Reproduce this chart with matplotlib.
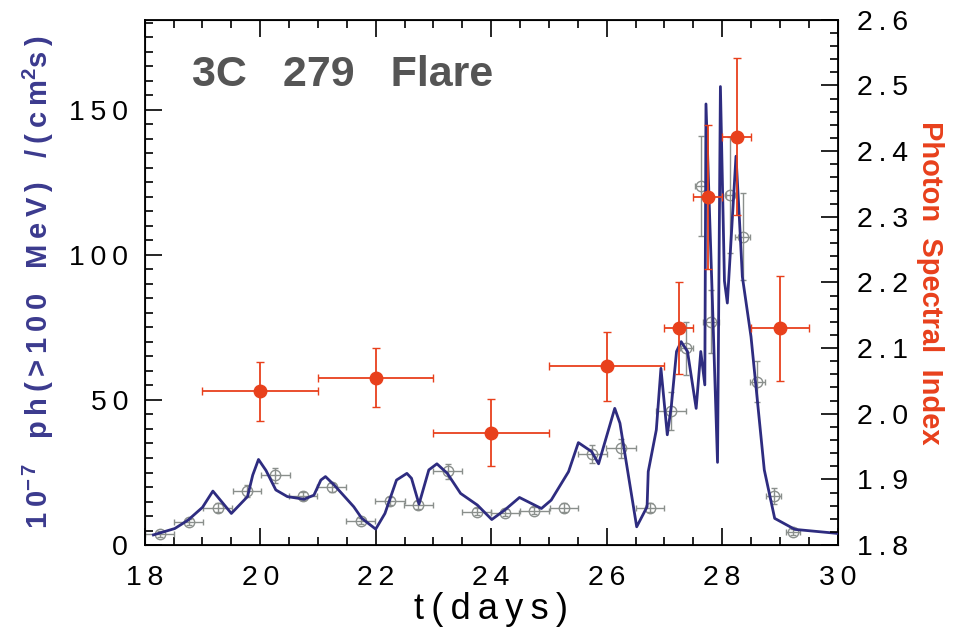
import matplotlib
matplotlib.use("Agg")
import matplotlib.pyplot as plt
from matplotlib.ticker import MultipleLocator, FuncFormatter

plt.rcParams['font.family'] = ['Liberation Sans', 'DejaVu Sans']
plt.rcParams['mathtext.fontset'] = 'custom'
plt.rcParams['mathtext.rm'] = 'Liberation Sans:bold'
plt.rcParams['mathtext.default'] = 'rm'

## flux light curve (blue line), 1e-7 ph/(cm2 s)
line_t = [18.15, 18.52, 18.75, 19.0, 19.18, 19.5, 19.78, 19.87, 19.97, 20.1,
          20.27, 20.47, 20.76, 20.93, 21.05, 21.13, 21.28, 21.62, 21.76, 22.0,
          22.16, 22.36, 22.54, 22.62, 22.75, 22.92, 23.06, 23.24, 23.47, 23.76,
          24.01, 24.23, 24.49, 24.87, 25.04, 25.34, 25.51, 25.74, 25.86, 26.14,
          26.23, 26.52, 26.70, 26.72, 26.86, 26.94, 27.05, 27.12, 27.21, 27.29,
          27.40, 27.55, 27.63, 27.70, 27.72, 27.82, 27.92, 27.97, 28.04, 28.09,
          28.24, 28.30, 28.35, 28.50, 28.73, 28.91, 29.26, 29.90, 30.0]
line_f = [3.5, 5.7, 8.6, 13.0, 18.6, 10.9, 16.7, 24.1, 29.5, 25.7,
          19.0, 16.7, 15.8, 17.2, 22.4, 23.6, 20.7, 13.2, 9.2, 5.5,
          10.9, 22.4, 24.7, 23.0, 14.1, 25.9, 28.0, 24.7, 17.8, 13.8,
          8.8, 12.0, 16.4, 12.6, 15.5, 25.3, 35.3, 32.2, 28.0, 47.1,
          42.0, 6.3, 13.2, 25.3, 39.7, 60.9, 38.0, 47.9, 66.7, 70.1,
          66.7, 47.1, 66.7, 55.2, 152.0, 91.0, 28.5, 158.0, 91.0, 83.4,
          134.0, 112.0, 92.5, 71.8, 25.9, 9.2, 5.4, 4.2, 4.0]

## binned flux points (grey)
flux_t = [18.26, 18.76, 19.26, 19.77, 20.26, 20.74, 21.24, 21.74, 22.24, 22.74,
          23.25, 23.75, 24.24, 24.75, 25.26, 25.75, 26.25, 26.75, 27.12, 27.38,
          27.63, 27.81, 28.13, 28.36, 28.61, 28.89, 29.23]
flux_f = [3.8, 8.0, 12.9, 18.6, 24.1, 16.9, 19.9, 8.4, 15.2, 13.8,
          25.5, 11.5, 11.1, 11.8, 12.9, 31.4, 33.3, 12.9, 46.2, 67.8,
          123.6, 77.0, 120.7, 106.3, 56.3, 16.9, 4.6]
flux_terr = [0.25, 0.25, 0.25, 0.25, 0.25, 0.25, 0.25, 0.25, 0.26, 0.25,
             0.25, 0.25, 0.25, 0.25, 0.25, 0.25, 0.26, 0.25, 0.26, 0.11,
             0.10, 0.14, 0.06, 0.13, 0.13, 0.13, 0.12]
flux_ferr = [1.0, 1.0, 1.5, 2.0, 2.6, 1.5, 1.5, 1.0, 1.5, 1.5,
             2.6, 1.2, 1.2, 1.2, 1.5, 3.2, 3.4, 1.5, 6.6, 9.2,
             17.2, 10.9, 20.0, 15.0, 7.0, 2.6, 1.0]

## photon spectral index (red)
index_t = [20.0, 22.0, 24.0, 26.0, 27.25, 27.75, 28.25, 29.0]
index_val = [2.034, 2.055, 1.971, 2.072, 2.130, 2.330, 2.422, 2.130]
index_terr = [1.0, 1.0, 1.0, 1.0, 0.25, 0.25, 0.25, 0.5]
index_err = [0.045, 0.045, 0.051, 0.052, 0.07, 0.11, 0.12, 0.08]

left_ticks = [0, 50, 100, 150]
right_ticks = [1.8, 1.9, 2.0, 2.1, 2.2, 2.3, 2.4, 2.5, 2.6]
x_ticks = [18, 20, 22, 24, 26, 28, 30]


def track(s):
    # thin spaces between letters, the original uses wide letter spacing
    return ' '.join('\u2009'.join(w) for w in s.split(' '))


blue = '#2e2c80'
red = '#e8401c'
grey = '#8a8f8c'

fig = plt.figure(figsize=(9.65, 6.39), dpi=100)
ax = fig.add_axes([0.150, 0.147, 0.718, 0.822])

ax.errorbar(flux_t, flux_f, xerr=flux_terr, yerr=flux_ferr, fmt='o',
            ms=7.5, mfc='none', mec=grey, mew=1.0, ecolor=grey,
            elinewidth=1.0, capsize=2.5, zorder=2)
ax.plot(line_t, line_f, color=blue, lw=2.0, zorder=3)

ax.set_xlim(18, 30)
ax.set_ylim(0, 181)
ax.set_xticks(x_ticks)
ax.set_yticks(left_ticks)
ax.xaxis.set_minor_locator(MultipleLocator(0.5))
ax.yaxis.set_minor_locator(MultipleLocator(5))
fmt = FuncFormatter(lambda v, p: track('%g' % v))
ax.xaxis.set_major_formatter(fmt)
ax.yaxis.set_major_formatter(fmt)
ax.tick_params(which='both', direction='in', top=True, right=False,
               width=1.2, labelsize=20.5)
ax.tick_params(which='major', length=12)
ax.tick_params(which='minor', length=6)
ax.tick_params(axis='x', pad=14)
ax.tick_params(axis='y', pad=12)
for s in ax.spines.values():
    s.set_linewidth(1.3)

ax.set_xlabel(track('t(days)'), fontsize=26)
ax.xaxis.set_label_coords(0.5, -0.09)
ylab = (track('10') + r'$^{-\,7}$' + '   ' + track('ph(>100') + '   '
        + track('MeV)') + '   ' + track('/(cm') + r'$^{2}$' + track('s)'))
ax.set_ylabel(ylab, fontsize=21, fontweight='bold', color='#3b3a8e')
ax.yaxis.set_label_coords(-0.128, 0.5)

ax.text(0.068, 0.895, '3C   279   Flare', transform=ax.transAxes,
        fontsize=31, fontweight='bold', color='#555555', va='center', ha='left')

ax2 = ax.twinx()
ax2.errorbar(index_t, index_val, xerr=index_terr, yerr=index_err, fmt='o',
             ms=9, color=red, ecolor=red, elinewidth=1.3, capsize=3, zorder=4)
ax2.set_ylim(1.8, 2.6)
ax2.set_yticks(right_ticks)
ax2.yaxis.set_minor_locator(MultipleLocator(0.02))
ax2.yaxis.set_major_formatter(FuncFormatter(lambda v, p: track('%.1f' % v)))
ax2.tick_params(which='both', direction='in', width=1.2, labelsize=20.5, pad=14)
ax2.tick_params(which='major', length=12)
ax2.tick_params(which='minor', length=6)
ax2.set_ylabel('Photon  Spectral  Index', fontsize=21,
               fontweight='bold', color=red, rotation=270, va='center')
ax2.yaxis.set_label_coords(1.133, 0.5)

plt.savefig("out.png", dpi=100)
